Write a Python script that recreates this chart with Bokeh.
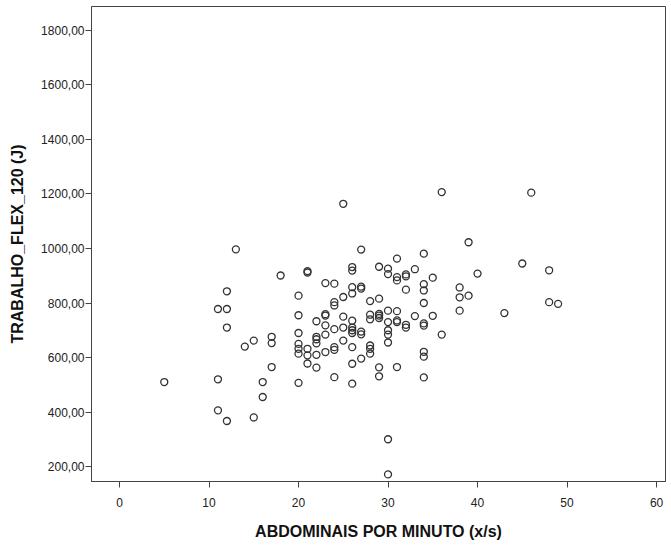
from bokeh.plotting import figure
from bokeh.models import Range1d, FixedTicker
from bokeh.embed import file_html
from bokeh.resources import INLINE

# ABDOMINAIS POR MINUTO (x/s)
abdominais = [
    5,
    11, 11, 11,
    12, 12, 12, 12,
    13, 14, 15, 15, 16, 16, 17, 17, 17, 18,
    20, 20, 20, 20, 20, 20, 20,
    21, 21, 21, 21, 21,
    22, 22, 22, 22, 22, 22,
    23, 23, 23, 23, 23, 23,
    24, 24, 24, 24, 24, 24, 24,
    25, 25, 25, 25, 25,
    26, 26, 26, 26, 26, 26, 26, 26, 26, 26, 26,
    27, 27, 27, 27, 27, 27,
    28, 28, 28, 28, 28, 28,
    29, 29, 29, 29, 29, 29, 29,
    30, 30, 30, 30, 30, 30, 30, 30, 30,
    31, 31, 31, 31, 31, 31, 31,
    32, 32, 32, 32, 32,
    33, 33,
    34, 34, 34, 34, 34, 34, 34, 34, 34,
    35, 35,
    36, 36,
    38, 38, 38,
    39, 39,
    40, 43, 45, 46,
    48, 48, 49,
]
# TRABALHO_FLEX_120 (J)
trabalho = [
    510,
    778, 520, 406,
    843, 778, 710, 367,
    997, 640, 662, 380, 510, 455, 676, 653, 565, 901,
    827, 755, 690, 650, 632, 614, 507,
    917, 912, 632, 608, 578,
    733, 676, 667, 652, 610, 563,
    873, 759, 754, 718, 684, 620,
    871, 803, 791, 704, 638, 628, 528,
    1164, 822, 750, 710, 662,
    932, 919, 858, 835, 735, 710, 700, 690, 638, 577, 504,
    996, 860, 853, 695, 685, 596,
    807, 757, 740, 644, 632, 614,
    933, 816, 760, 754, 745, 564, 531,
    926, 906, 772, 730, 700, 684, 655, 300, 171,
    963, 895, 883, 770, 736, 730, 565,
    905, 898, 849, 720, 710,
    924, 752,
    981, 869, 846, 800, 725, 717, 621, 603, 527,
    893, 753,
    1207, 684,
    857, 821, 772,
    1023, 827,
    908, 763, 945, 1205,
    920, 803, 797,
]

x_ticks = [0, 10, 20, 30, 40, 50, 60]
x_tick_labels = ["0", "10", "20", "30", "40", "50", "60"]
y_ticks = [200, 400, 600, 800, 1000, 1200, 1400, 1600, 1800]
y_tick_labels = ["200,00", "400,00", "600,00", "800,00", "1000,00",
                 "1200,00", "1400,00", "1600,00", "1800,00"]

p = figure(width=667, height=544, output_backend="svg", toolbar_location=None,
           x_range=Range1d(-3.13, 61.0), y_range=Range1d(145, 1888),
           min_border_left=91, min_border_right=2, min_border_top=6,
           min_border_bottom=63)

p.background_fill_color = "white"
p.border_fill_color = "white"
p.outline_line_color = "#444444"
p.outline_line_width = 1
p.grid.visible = False

p.scatter(abdominais, trabalho, marker="circle", size=7, fill_color=None,
          line_color="#333333", line_width=1.3)

for ax, ticks, labels in ((p.xaxis[0], x_ticks, x_tick_labels),
                          (p.yaxis[0], y_ticks, y_tick_labels)):
    ax.ticker = FixedTicker(ticks=ticks)
    ax.major_label_overrides = {t: l for t, l in zip(ticks, labels)}
    ax.minor_tick_line_color = None
    ax.major_tick_in = 0
    ax.major_tick_out = 6
    ax.major_tick_line_color = "#444444"
    ax.axis_line_color = "#444444"
    ax.major_label_text_font = "Liberation Sans"
    ax.major_label_text_font_size = "12px"
    ax.major_label_text_color = "#222222"
    ax.axis_label_text_font = "Liberation Sans"
    ax.axis_label_text_font_size = "16px"
    ax.axis_label_text_font_style = "bold"
    ax.axis_label_text_color = "#111111"

p.xaxis.axis_label = "ABDOMINAIS POR MINUTO (x/s)"
p.yaxis.axis_label = "TRABALHO_FLEX_120 (J)"
p.xaxis.major_label_standoff = 10
p.yaxis.major_label_standoff = 1
p.xaxis.axis_label_standoff = 13
p.yaxis.axis_label_standoff = 12

open("out.html", "w").write(file_html(p, INLINE))
